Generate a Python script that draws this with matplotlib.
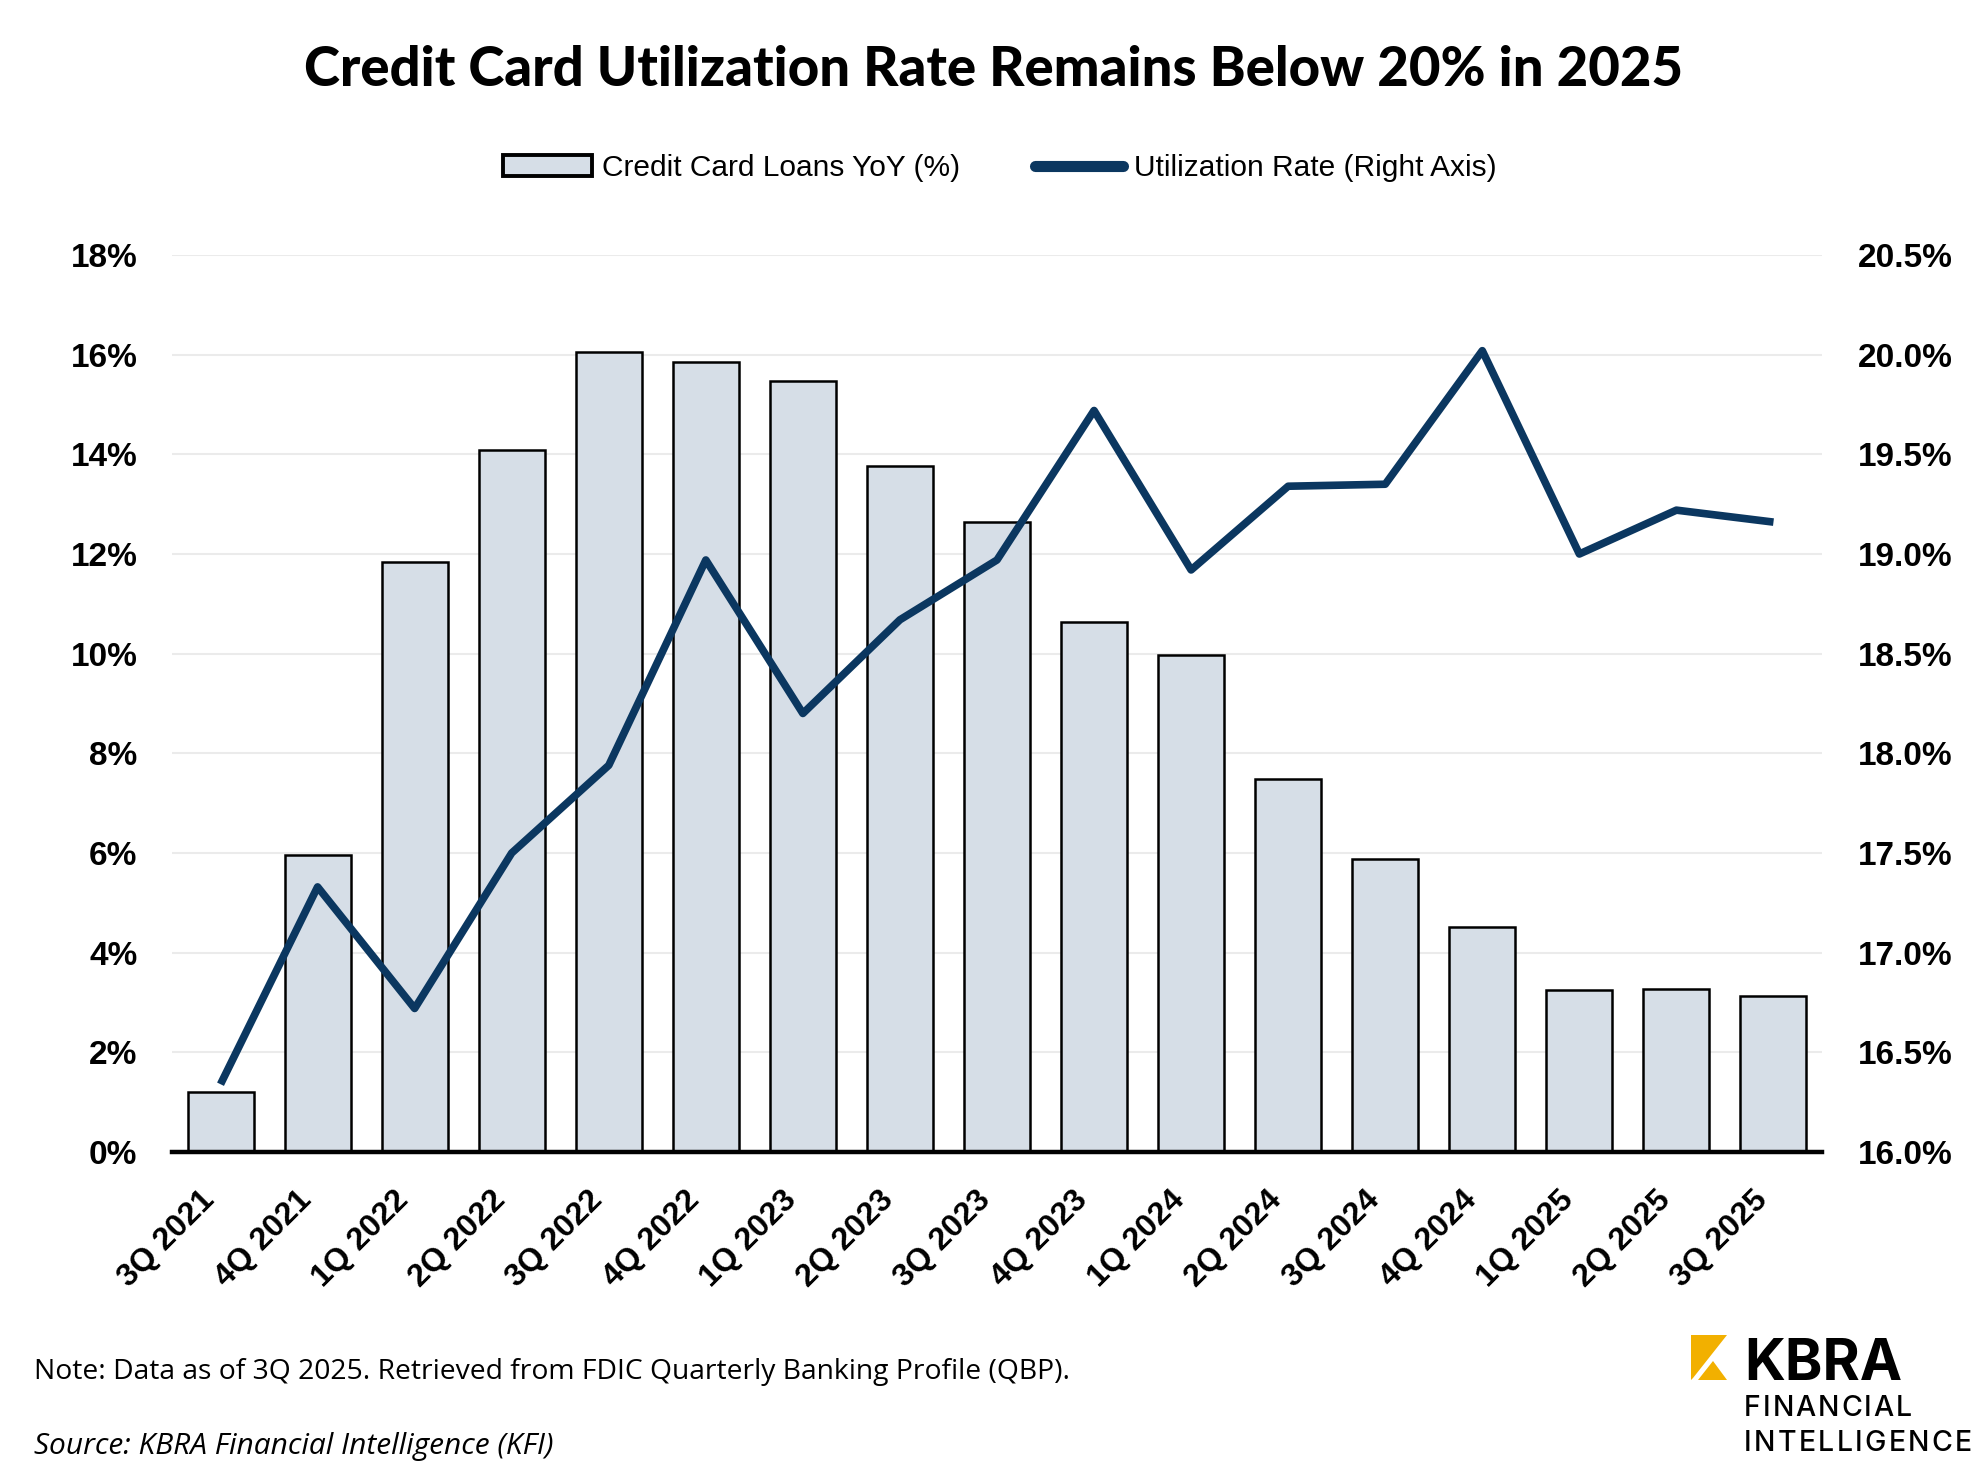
import matplotlib
matplotlib.use("Agg")
import matplotlib.pyplot as plt
from matplotlib.patches import Polygon, Patch
from matplotlib.lines import Line2D
import numpy as np

# ---------------- data ----------------
quarters = ["3Q 2021", "4Q 2021", "1Q 2022", "2Q 2022", "3Q 2022", "4Q 2022",
            "1Q 2023", "2Q 2023", "3Q 2023", "4Q 2023", "1Q 2024", "2Q 2024",
            "3Q 2024", "4Q 2024", "1Q 2025", "2Q 2025", "3Q 2025"]
loans_yoy = [1.20, 5.96, 11.84, 14.08, 16.06, 15.86, 15.48, 13.77, 12.65,
             10.64, 9.98, 7.48, 5.88, 4.51, 3.26, 3.28, 3.13]
util_rate = [16.34, 17.33, 16.72, 17.50, 17.94, 18.97, 18.20, 18.67, 18.97,
             19.72, 18.92, 19.34, 19.35, 20.02, 19.00, 19.22, 19.16]
left_ticks = [0, 2, 4, 6, 8, 10, 12, 14, 16, 18]
right_ticks = [16.0, 16.5, 17.0, 17.5, 18.0, 18.5, 19.0, 19.5, 20.0, 20.5]

title = "Credit Card Utilization Rate Remains Below 20% in 2025"
bar_label = "Credit Card Loans YoY (%)"
line_label = "Utilization Rate (Right Axis)"
note = "Note: Data as of 3Q 2025. Retrieved from FDIC Quarterly Banking Profile (QBP)."
source = "Source: KBRA Financial Intelligence (KFI)"

BAR_COLOR = "#D6DEE7"
LINE_COLOR = "#0B3760"
YELLOW = "#F2B000"

W, H = 1986, 1473
fig = plt.figure(figsize=(W / 100, H / 100), dpi=100)
fig.patch.set_facecolor("white")

def fx(px):
    return px / W

def fy(py):
    return 1 - py / H

ax = fig.add_axes([fx(172), fy(1152), fx(1822) - fx(172), fy(255) - fy(1152)])
x = np.arange(len(quarters))
ax.bar(x, loans_yoy, width=0.68, color=BAR_COLOR, edgecolor="black",
       linewidth=1.8, zorder=2)
ax.set_xlim(-0.5, len(quarters) - 0.5)
ax.set_ylim(0, 18)
ax.set_yticks(left_ticks)
ax.set_yticklabels([f"{v}%" for v in left_ticks], fontsize=24,
                   fontweight="bold", family="Liberation Sans")
ax.set_xticks(x)
ax.set_xticklabels(quarters, rotation=45, ha="right", fontsize=23,
                   fontweight="bold", family="Liberation Sans")
ax.grid(axis="y", color="#EBEBEB", linewidth=1.5, zorder=0)
ax.set_axisbelow(True)
for s in ["top", "left", "right"]:
    ax.spines[s].set_visible(False)
ax.spines["bottom"].set_linewidth(3.2)
ax.spines["bottom"].set_zorder(5)
ax.tick_params(axis="y", length=0, pad=25)
ax.tick_params(axis="x", length=0, pad=24)

ax2 = ax.twinx()
ax2.plot(x, util_rate, color=LINE_COLOR, linewidth=5.5,
         solid_joinstyle="round", solid_capstyle="butt", zorder=4)
ax2.set_ylim(16, 20.5)
ax2.set_yticks(right_ticks)
ax2.set_yticklabels([f"{v:.1f}%" for v in right_ticks], fontsize=24,
                    fontweight="bold", family="Liberation Sans")
for s in ["top", "left", "right", "bottom"]:
    ax2.spines[s].set_visible(False)
ax2.tick_params(axis="y", length=0, pad=26)

# ---------------- legend ----------------
handles = [Patch(facecolor=BAR_COLOR, edgecolor="black", linewidth=2.8),
           Line2D([0], [0], color=LINE_COLOR, linewidth=8, solid_capstyle="round")]
leg = fig.legend(handles, [bar_label, line_label], loc="center",
                 bbox_to_anchor=(fx(1000), fy(168)), ncol=2, frameon=False,
                 prop={"family": "Liberation Sans", "size": 21.5},
                 handlelength=2.96, handleheight=0.7, handletextpad=0.35,
                 columnspacing=2.5)

# ---------------- texts ----------------
t_title = fig.text(fx(994), fy(86), title, ha="center", va="baseline",
                   fontsize=35, fontweight="black", family="Lato")
t_note = fig.text(fx(34), fy(1379), note, ha="left", va="baseline",
                  fontsize=18, family="Open Sans")
t_src = fig.text(fx(34), fy(1454), source, ha="left", va="baseline",
                 fontsize=18, family="Open Sans", style="italic")
t_kbra = fig.text(fx(1744), fy(1380), "KBRA", ha="left", va="baseline",
                  fontsize=45, fontweight="bold", family="Inter")

fig.canvas.draw()
renderer = fig.canvas.get_renderer()

def fit(t, target):
    bb = t.get_window_extent(renderer)
    t.set_fontsize(t.get_fontsize() * target / bb.width)

fit(t_title, 1381)
fit(t_note, 1034)
fit(t_src, 520)
fit(t_kbra, 158)

def spaced(text, x0, x1, ybase, size):
    # letter-spaced text drawn character by character
    objs = [fig.text(0, fy(ybase), c, ha="left", va="baseline", fontsize=size,
                     family="Inter", fontweight="medium") for c in text]
    fig.canvas.draw()
    widths = [o.get_window_extent(renderer).width for o in objs]
    gap = ((x1 - x0) - sum(widths)) / (len(text) - 1)
    cur = x0
    for o, w in zip(objs, widths):
        o.set_x(fx(cur))
        cur += w + gap

spaced("FINANCIAL", 1744, 1912, 1416, 20.5)
spaced("INTELLIGENCE", 1744, 1972, 1451, 20.5)

# logo icon
p1 = [(1691, 1335), (1727, 1335), (1693, 1378), (1691, 1380)]
p2 = [(1698, 1380), (1727, 1380), (1713, 1361)]
for poly in (p1, p2):
    fig.add_artist(Polygon([(fx(a), fy(b)) for a, b in poly], closed=True,
                           transform=fig.transFigure, facecolor=YELLOW,
                           edgecolor="none"))

fig.savefig("out.png", dpi=100, facecolor="white")
